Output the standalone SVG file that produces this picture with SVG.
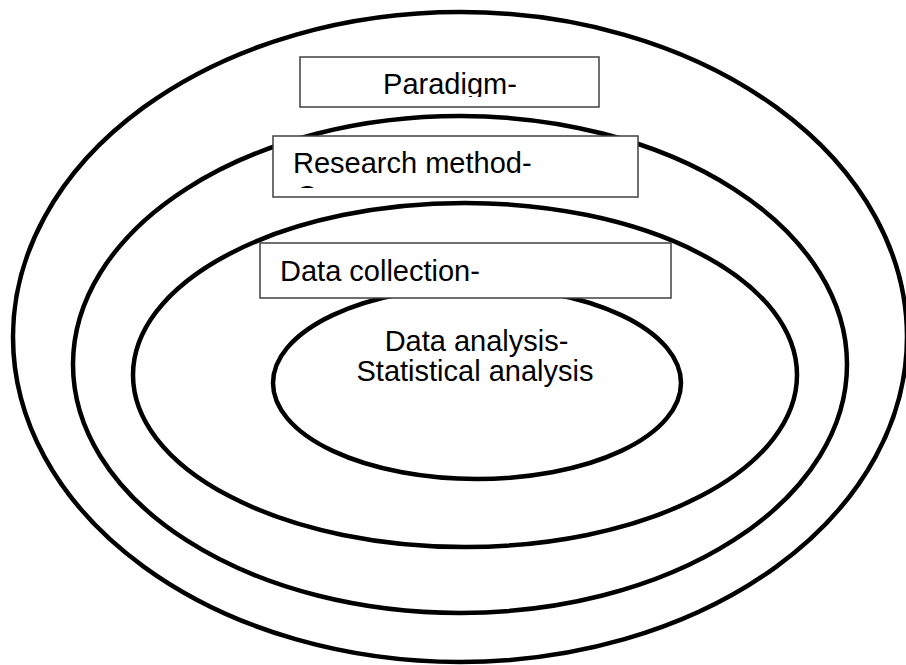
<svg xmlns="http://www.w3.org/2000/svg" width="906" height="665" viewBox="0 0 906 665">
  <style>
    .ring { fill: none; stroke: #000; stroke-width: 4.5; }
    .box { fill: #fff; stroke: #404040; stroke-width: 1.5; }
    .label { font-family: "Liberation Sans", Arial, sans-serif; font-size: 29px; fill: #000; }
  </style>
  <defs>
    <!-- text frames sit slightly inside each box, so overflowing lines are cut -->
    <clipPath id="clip-paradigm"><rect x="300" y="57" width="299" height="40"/></clipPath>
    <clipPath id="clip-method"><rect x="273" y="136" width="365" height="52"/></clipPath>
  </defs>
  <rect width="906" height="665" fill="#fff"/>

  <!-- nested rings, outermost first -->
  <g id="rings">
    <ellipse id="ring-paradigm" class="ring" cx="460" cy="337" rx="447" ry="325"/>
    <ellipse id="ring-method" class="ring" cx="460" cy="364.5" rx="387" ry="248.5"/>
    <ellipse id="ring-collection" class="ring" cx="465" cy="375" rx="332" ry="172"/>
  </g>

  <g id="node-analysis">
    <ellipse class="ring" cx="477" cy="383" rx="204" ry="96"/>
    <text class="label" x="476.5" y="351" text-anchor="middle">Data analysis-</text>
    <text class="label" x="475" y="381" text-anchor="middle">Statistical analysis</text>
  </g>

  <g id="node-paradigm">
    <rect class="box" x="300" y="57" width="299" height="50"/>
    <g clip-path="url(#clip-paradigm)">
      <text class="label" x="450" y="94" text-anchor="middle">Paradigm-</text>
    </g>
  </g>

  <g id="node-method">
    <rect class="box" x="273" y="136" width="365" height="61"/>
    <g clip-path="url(#clip-method)">
      <text class="label" x="293" y="173">Research method-</text>
      <text class="label" x="296" y="206">Q</text>
    </g>
  </g>

  <g id="node-collection">
    <rect class="box" x="260" y="243" width="411" height="55"/>
    <text class="label" x="280" y="281">Data collection-</text>
  </g>

  <g id="connectors"></g>
</svg>
